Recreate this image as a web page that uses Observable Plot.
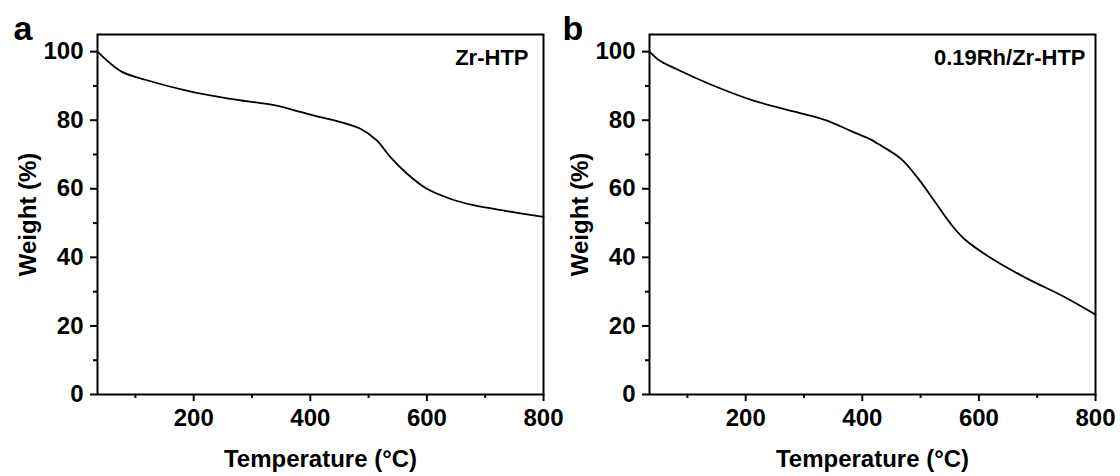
<!DOCTYPE html>
<html><head><meta charset="utf-8">
<script src="https://cdn.jsdelivr.net/npm/d3@7"></script>
<script src="https://cdn.jsdelivr.net/npm/@observablehq/plot@0.6"></script>
<style>
body{margin:0;background:#fff;}
#wrap{position:relative;width:1120px;height:476px;}
.panel{position:absolute;top:0;}
</style></head><body><div id="wrap"></div>
<script>
// Panel a: Zr-HTP
const tempA   = [35, 54, 77, 117, 186, 260, 340, 383, 417, 440, 486, 514, 537, 566, 600, 640, 680, 737, 800];
const weightA = [100, 97, 94.1, 91.8, 88.7, 86.3, 84.3, 82.4, 80.9, 80, 77.5, 74.1, 69.3, 64.4, 60, 57.1, 55.2, 53.5, 51.8];
// Panel b: 0.19Rh/Zr-HTP
const tempB   = [35, 51.5, 80, 143, 212, 286, 337, 380, 414, 426, 466, 494, 523, 551, 574, 626, 683, 746, 800];
const weightB = [100, 97.5, 95, 90.2, 85.8, 82.4, 80, 76.9, 74.4, 73.2, 68.8, 63.4, 56.6, 49.9, 45.5, 39.2, 33.8, 28.5, 23.3];

const majorX = [200, 400, 600, 800];
const minorX = [100, 300, 500, 700];
const majorY = [0, 20, 40, 60, 80, 100];
const minorY = [10, 30, 50, 70, 90];
const letters = ["a", "b"];
const names = ["Zr-HTP", "0.19Rh/Zr-HTP"];
const xTitle = "Temperature (°C)";
const yTitle = "Weight (%)";

const FONT = "'Liberation Sans', Arial, Helvetica, sans-serif";

function panel(temps, weights, letter, name, o) {
  const data = temps.map((t, i) => ({t, w: weights[i]}));
  return Plot.plot({
    width: 560, height: 476,
    marginLeft: o.ml, marginRight: o.mr, marginTop: 34, marginBottom: 82,
    style: {fontFamily: FONT, color: "#000", background: "transparent", overflow: "visible"},
    x: {domain: [35, 800]},
    y: {domain: [0, 105]},
    marks: [
      Plot.axisX({ticks: majorX, tickSize: 7, tickPadding: 7, strokeWidth: 2, fontSize: 24, fontWeight: "bold",
        label: xTitle, labelAnchor: "center", labelOffset: 72, labelArrow: "none"}),
      Plot.axisX({ticks: minorX, tickSize: 4, strokeWidth: 2, tickFormat: () => "", label: null}),
      Plot.axisY({ticks: majorY, tickSize: 7, tickPadding: 7, strokeWidth: 2, fontSize: 24, fontWeight: "bold",
        label: yTitle, labelAnchor: "center", labelOffset: 79, labelArrow: "none"}),
      Plot.axisY({ticks: minorY, tickSize: 4, strokeWidth: 2, tickFormat: () => "", label: null}),
      Plot.frame({stroke: "#000", strokeWidth: 2}),
      Plot.line(data, {x: "t", y: "w", curve: "catmull-rom", stroke: "#000", strokeWidth: 1.8}),
      Plot.text([name], {frameAnchor: "top-right", dx: -o.nameInset, dy: 30, lineAnchor: "bottom", textAnchor: "end",
        fontSize: 22, fontWeight: "bold", fill: "#000"}),
      Plot.text([letter], {frameAnchor: "top-left", dx: o.letterDx, dy: 5, lineAnchor: "bottom", textAnchor: "start",
        fontSize: 34, fontWeight: "bold", fill: "#000"})
    ]
  });
}

const wrap = document.getElementById("wrap");
const pa = panel(tempA, weightA, letters[0], names[0], {ml: 97, mr: 17, nameInset: 15, letterDx: -84});
const pb = panel(tempB, weightB, letters[1], names[1], {ml: 89, mr: 25, nameInset: 10, letterDx: -87});
pa.classList.add("panel"); pa.style.left = "0px";
pb.classList.add("panel"); pb.style.left = "560px";
wrap.appendChild(pa); wrap.appendChild(pb);
</script></body></html>
